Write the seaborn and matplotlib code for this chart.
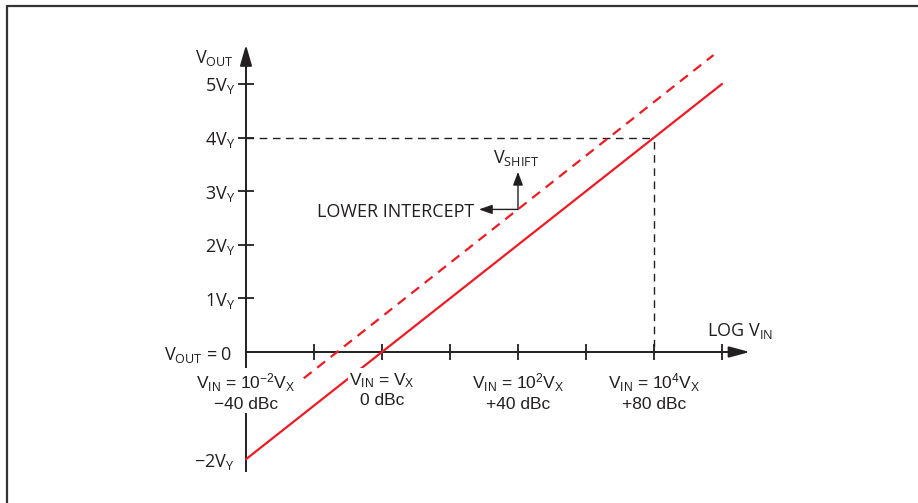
import matplotlib
matplotlib.use("Agg")
import matplotlib.pyplot as plt
from matplotlib.lines import Line2D
import numpy as np
import pandas as pd
import seaborn as sns

# transfer curve values, x in dBc, y in units of V_Y
vin_dbc = [-40, 100]
vout_ideal = [-2.0, 5.0]
vin_dbc_shifted = [-23, 97.5]
vout_shifted = [-0.49, 5.54]

xticks = [-20, 0, 20, 40, 60, 80, 100]
xlabel_pos = [-40, 0, 40, 80]
xlabels = [
    "$V_{IN}$ = 10$^{-2}V_{X}$\n\u221240 dBc",
    "$V_{IN}$ = $V_{X}$\n0 dBc",
    "$V_{IN}$ = 10$^{2}V_{X}$\n+40 dBc",
    "$V_{IN}$ = 10$^{4}V_{X}$\n+80 dBc",
]
yticks = [1, 2, 3, 4, 5]
ylabels = ["1$V_{Y}$", "2$V_{Y}$", "3$V_{Y}$", "4$V_{Y}$", "5$V_{Y}$"]

ref_dbc = 80
ref_vout = 4
shift_anchor = (40, 2.66)
shift_top = 3.36
intercept_left = 28.5

RED = "#ED1C24"
INK = "#231F20"

sns.set_theme(style="white")
plt.rcParams["font.family"] = ["Open Sans", "DejaVu Sans"]
plt.rcParams["mathtext.default"] = "regular"

fig = plt.figure(figsize=(9.18, 5.03), dpi=100)
ax = fig.add_axes([0, 0, 1, 1])
ax.set_xlim(-112.35, 157.65)
ax.set_ylim(-2.817, 6.567)
ax.set_facecolor("white")

df_ideal = pd.DataFrame({"dbc": vin_dbc, "vout": vout_ideal})
df_shift = pd.DataFrame({"dbc": vin_dbc_shifted, "vout": vout_shifted})
sns.lineplot(data=df_ideal, x="dbc", y="vout", color=RED, lw=1.6, ax=ax, zorder=4)
sns.lineplot(data=df_shift, x="dbc", y="vout", color=RED, lw=1.6,
             linestyle=(0, (4.5, 3.2)), ax=ax, zorder=4)

# guide lines at the 4 V_Y / +80 dBc point
ax.hlines(ref_vout, -40, ref_dbc, colors=INK, lw=1.0, linestyles=(0, (5.5, 4)), zorder=2)
ax.vlines(ref_dbc, 0.1, ref_vout, colors=INK, lw=1.0, linestyles=(0, (5.5, 4)), zorder=2)

# axes drawn as spines through the origin
for s in ("top", "right"):
    ax.spines[s].set_visible(False)
ax.spines["left"].set_position(("data", -40))
ax.spines["bottom"].set_position(("data", 0))
ax.spines["left"].set_bounds(-2.22, 5.45)
ax.spines["bottom"].set_bounds(-40, 104)
for s in ("left", "bottom"):
    ax.spines[s].set_color(INK)
    ax.spines[s].set_linewidth(1.4)
    ax.spines[s].set_zorder(3)

ax.set_xticks(xticks)
ax.set_xticklabels([])
ax.set_yticks(yticks, ylabels)
ax.tick_params(axis="both", direction="inout", length=11, width=1.3, color=INK,
               bottom=True, left=True)
ax.tick_params(axis="y", labelsize=13, labelcolor=INK, pad=2)
ax.set_xlabel("")
ax.set_ylabel("")

ax.annotate("", xy=(-40, 5.73), xytext=(-40, 5.3),
            arrowprops=dict(arrowstyle="-|>,head_length=0.9,head_width=0.26",
                            mutation_scale=14, color=INK, lw=1.4, shrinkA=0, shrinkB=0))
ax.annotate("", xy=(108.2, 0), xytext=(103, 0),
            arrowprops=dict(arrowstyle="-|>,head_length=0.9,head_width=0.24",
                            mutation_scale=14, color=INK, lw=1.4, shrinkA=0, shrinkB=0))

# V_SHIFT and LOWER INTERCEPT pointers
ax.annotate("", xy=(shift_anchor[0], shift_top), xytext=shift_anchor,
            arrowprops=dict(arrowstyle="-|>,head_length=0.8,head_width=0.3",
                            mutation_scale=10, color=INK, lw=1.0, shrinkA=0, shrinkB=0))
ax.annotate("", xy=(intercept_left, shift_anchor[1]), xytext=shift_anchor,
            arrowprops=dict(arrowstyle="-|>,head_length=0.8,head_width=0.28",
                            mutation_scale=10, color=INK, lw=1.0, shrinkA=0, shrinkB=0))

ax.text(-43.5, 5.39, "$V_{OUT}$", ha="right", va="baseline", fontsize=13, color=INK)
ax.text(-44.1, 0, "$V_{OUT}$ = 0", ha="right", va="center_baseline", fontsize=13, color=INK)
ax.text(-43.5, -2, "\u22122$V_{Y}$", ha="right", va="center_baseline", fontsize=13, color=INK)
ax.text(95.6, 0.43, "LOG $V_{IN}$", ha="left", va="center_baseline", fontsize=13, color=INK)
ax.text(32.6, 3.53, "$V_{SHIFT}$", ha="left", va="baseline", fontsize=13, color=INK)
ax.text(27.2, 2.65, "LOWER INTERCEPT", ha="right", va="center_baseline", fontsize=13, color=INK)

for pos, lab in zip(xlabel_pos, xlabels):
    ax.text(pos, -0.36, lab, ha="center", va="top", multialignment="center",
            fontsize=12.5, color=INK, family=["Liberation Sans", "DejaVu Sans"],
            linespacing=1.25, zorder=5,
            bbox=dict(facecolor="white", edgecolor="none", pad=1))

# figure frame (top and left edges of the cropped box)
fig.add_artist(Line2D([7 / 918, 1], [1 - 6 / 503] * 2, transform=fig.transFigure,
                      color="#333333", lw=1.6))
fig.add_artist(Line2D([7 / 918] * 2, [0, 1 - 6 / 503], transform=fig.transFigure,
                      color="#333333", lw=1.6))

fig.savefig("out.png", dpi=100, facecolor="white")
plt.close(fig)
